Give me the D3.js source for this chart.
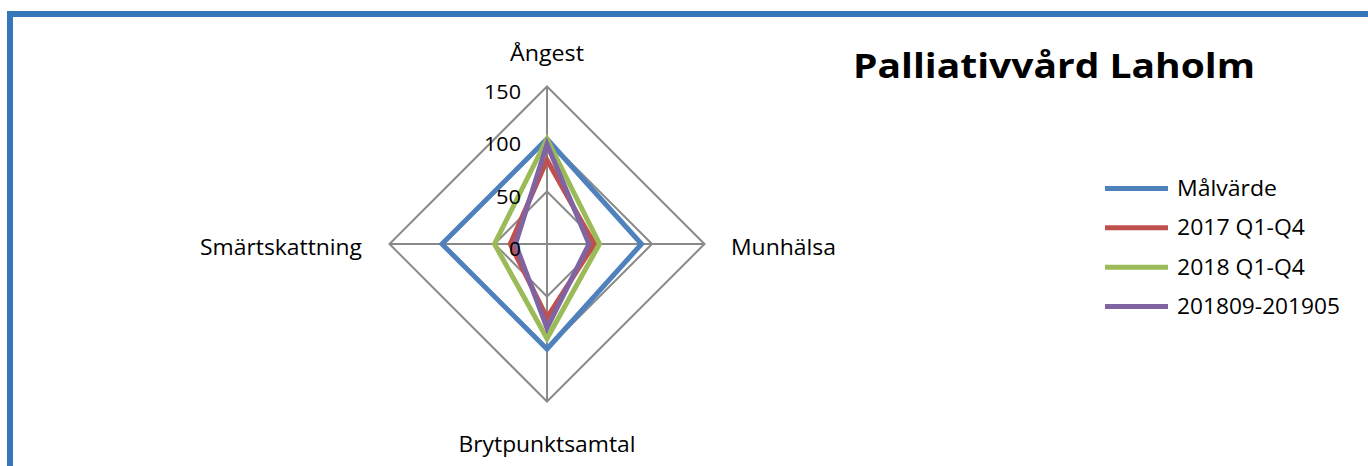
<!DOCTYPE html>
<html>
<head>
<meta charset="utf-8">
<script src="https://cdn.jsdelivr.net/npm/d3@7/dist/d3.min.js"></script>
<style>
  html, body { margin: 0; padding: 0; background: #fff; }
  svg { display: block; }
  text { font-family: "Open Sans", "DejaVu Sans", sans-serif; fill: #000; }
</style>
</head>
<body>
<svg id="chart" width="1368" height="466"></svg>
<script>
// ---- data ----
const categories = ["Ångest", "Munhälsa", "Brytpunktsamtal", "Smärtskattning"];
const seriesNames = ["Målvärde", "2017 Q1-Q4", "2018 Q1-Q4", "201809-201905"];
const malvarde = [100, 90, 100, 100];
const y2017 = [80, 45, 70, 35];
const y2018 = [100, 50, 90, 50];
const y201809 = [95, 40, 80, 30];
const tickValues = [0, 50, 100, 150];
const tickLabels = ["0", "50", "100", "150"];
const title = "Palliativvård Laholm";

const seriesValues = [malvarde, y2017, y2018, y201809];
const colors = ["#4F81BD", "#C0504D", "#9BBB59", "#8064A2"];

const svg = d3.select("#chart");

// frame border
svg.append("rect")
  .attr("x", 10).attr("y", 14)
  .attr("width", 1400).attr("height", 500)
  .attr("fill", "#fff")
  .attr("stroke", "#3476B8")
  .attr("stroke-width", 6);

const cx = 547, cy = 244;
const r = d3.scaleLinear().domain([0, 150]).range([0, 157.5]);
const angle = d3.scalePoint().domain(categories).range([0, 2 * Math.PI * 3 / 4]);
const pt = (cat, v) => {
  const a = angle(cat);
  return [cx + r(v) * Math.sin(a), cy - r(v) * Math.cos(a)];
};

const g = svg.append("g");

// grid rings
const ringLine = d3.line().curve(d3.curveLinearClosed);
tickValues.filter(t => t > 0).forEach(t => {
  g.append("path")
    .attr("d", ringLine(categories.map(c => pt(c, t))))
    .attr("fill", "none")
    .attr("stroke", "#898989")
    .attr("stroke-width", 2);
});
// spokes
categories.forEach(c => {
  const [x, y] = pt(c, 150);
  g.append("line")
    .attr("x1", cx).attr("y1", cy).attr("x2", x).attr("y2", y)
    .attr("stroke", "#898989").attr("stroke-width", 2);
});

// series
seriesValues.forEach((vals, i) => {
  g.append("path")
    .attr("d", ringLine(categories.map((c, j) => pt(c, vals[j]))))
    .attr("fill", "none")
    .attr("stroke", colors[i])
    .attr("stroke-width", 5)
    .attr("stroke-linejoin", "miter");
});

// tick labels
const tickW = [12, 25, 37, 37];
tickValues.forEach((t, i) => {
  g.append("text")
    .attr("x", cx - 26)
    .attr("y", cy - r(t) + 12)
    .attr("text-anchor", "end")
    .attr("font-size", 20.5)
    .attr("textLength", tickW[i])
    .attr("lengthAdjust", "spacingAndGlyphs")
    .text(tickLabels[i]);
});

// category labels
const catLayout = [
  { x: cx, y: 61, anchor: "middle", w: 74 },
  { x: 731, y: 255, anchor: "start", w: 105 },
  { x: cx, y: 451.5, anchor: "middle", w: 177 },
  { x: 362, y: 255, anchor: "end", w: 162 }
];
categories.forEach((c, i) => {
  const L = catLayout[i];
  g.append("text")
    .attr("x", L.x).attr("y", L.y)
    .attr("text-anchor", L.anchor)
    .attr("font-size", 21)
    .attr("textLength", L.w)
    .attr("lengthAdjust", "spacingAndGlyphs")
    .text(c);
});

// title
svg.append("text")
  .attr("x", 853).attr("y", 78)
  .attr("font-size", 34)
  .attr("font-weight", "bold")
  .attr("textLength", 402)
  .attr("lengthAdjust", "spacingAndGlyphs")
  .text(title);

// legend
const legendY = d3.scalePoint().domain(seriesNames).range([188.5, 306.5]);
const legendW = [100, 128, 128, 163];
seriesNames.forEach((n, i) => {
  const y = legendY(n);
  svg.append("line")
    .attr("x1", 1105).attr("x2", 1168)
    .attr("y1", y).attr("y2", y)
    .attr("stroke", colors[i]).attr("stroke-width", 5);
  svg.append("text")
    .attr("x", 1177).attr("y", y + 7.5)
    .attr("font-size", 21)
    .attr("textLength", legendW[i])
    .attr("lengthAdjust", "spacingAndGlyphs")
    .text(n);
});
</script>
</body>
</html>
